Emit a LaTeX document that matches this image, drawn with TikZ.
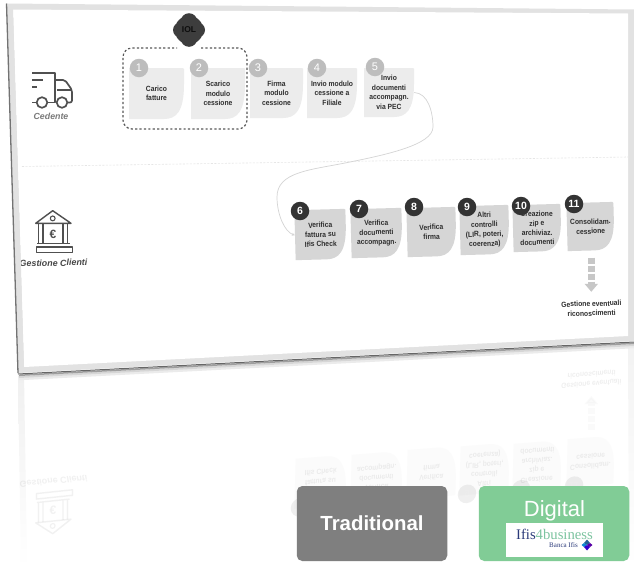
\documentclass[tikz,border=0pt]{standalone}
\usepackage{fontspec}
\setmainfont{Liberation Sans}
\newfontfamily\logoserif{Liberation Serif}
\newfontfamily\cardfont[FakeStretch=0.9]{Liberation Sans}
\usetikzlibrary{arrows.meta,calc}
\definecolor{cardA}{HTML}{ECECEC}
\definecolor{cardB}{HTML}{D6D6D6}
\definecolor{dotA}{HTML}{BDBDBD}
\definecolor{dotB}{HTML}{333333}
\definecolor{ink}{HTML}{2E2E2E}
\definecolor{iconink}{HTML}{505050}
\definecolor{band}{HTML}{E2E2E2}
\definecolor{btngray}{HTML}{7F7F7F}
\definecolor{btngreen}{HTML}{81CC96}
\definecolor{navy}{HTML}{2B3A7A}
\definecolor{teal}{HTML}{7CC4A0}
\tikzset{
  cardtext/.style={font=\cardfont\bfseries\fontsize{7.5}{9.5}\selectfont,text=ink,align=center,inner sep=0pt},
  dotbase/.style={circle,inner sep=0pt,minimum size=18.5pt,text=white},
  dota/.style={dotbase,fill=dotA,font=\fontsize{11}{11}\selectfont},
  dotb/.style={dotbase,fill=dotB,font=\bfseries\fontsize{10.5}{11}\selectfont},
  flow/.style={draw=black!17,line width=0.7pt,-{Stealth[length=3pt,width=3pt]}},
  sep/.style={draw=black!10,line width=0.6pt,dash pattern=on 2pt off 1.5pt},
  icon/.style={draw=iconink,line width=1.7pt,line join=round},
  btn/.style={rounded corners=5.5pt,minimum width=150.5pt,minimum height=75pt,inner sep=0pt},
  grouped/.style={draw=black!65,line width=1.2pt,dash pattern=on 2.2pt off 2.2pt,rounded corners=9pt}
}
% name, cx, cy, w, h, rotation, fill, text, dot
\newcommand\leaf[9]{%
  \begin{scope}[shift={(#2,#3)},rotate=#6]
    \fill[#7] ({-#4/2},{-#5/2}) -- ({#4/2-1},{-#5/2}) -- ({#4/2},{-#5/2+1}) -- ({#4/2},{-#5/2+16})
      .. controls ({#4/2},{#5/2-7}) and ({#4/2-8},{#5/2}) .. ({#4/2-20},{#5/2})
      -- ({-#4/2},{#5/2}) -- cycle;
  \end{scope}
  \node[cardtext,rotate=#6,minimum width=#4pt,minimum height=#5pt] (#1) at (#2,#3) {#8};
  #9}
\newcommand\lowercontent[1]{%
  \leaf{#16}{320.5}{234.5}{51}{50}{1.5}{cardB}{Verifica\\fattura su\\Ifis Check}{\node[dotb] (#1d6) at (300,211) {6};}
  \leaf{#17}{376.5}{233}{51}{49}{1.5}{cardB}{Verifica\\documenti\\accompagn.}{\node[dotb] (#1d7) at (359,209) {7};}
  \leaf{#18}{431.5}{232}{49}{49}{1.5}{cardB}{Verifica\\firma}{\node[dotb] (#1d8) at (414,207) {8};}
  \leaf{#19}{484.5}{230}{49}{49}{1.5}{cardB}{Altri\\controlli\\(LIR, poteri,\\coerenza)}{\node[dotb] (#1d9) at (467,207) {9};}
  \leaf{#110}{537}{228}{48}{47}{1.5}{cardB}{Creazione\\zip e\\archiviaz.\\documenti}{\node[dotb] (#1d10) at (521,206) {10};}
  \leaf{#111}{590.5}{226.5}{47}{48}{1.5}{cardB}{Consolidam.\\cessione}{\node[dotb] (#1d11) at (574,204) {11};}
  \node[cardtext,rotate=1.5] (#1gest) at (591.5,308.5) {Gestione eventuali\\riconoscimenti};
  \draw[draw=black!22,line width=6.5pt,dash pattern=on 6pt off 2pt,shorten <=7pt,shorten >=9pt,
    -{Triangle[length=8pt,width=13pt]}] (#111.south -| #1gest.north) -- (#1gest.north);
  % bank
  \draw[icon,line width=1.4pt] (35.7,223.3) -- (52.7,210.7) -- (71,223.3) -- cycle;
  \draw[icon,line width=1.1pt] (52.7,218.4) circle (2.4);
  \draw[icon,line width=1.4pt] (38.5,223.5) -- (38.5,243) (43,223.5) -- (43,243) (63,223.5) -- (63,243) (67.5,223.5) -- (67.5,243)
    (37,243.5) -- (69.5,243.5) (36.5,247) rectangle (72.5,252.5);
  \node[inner sep=0pt,text=iconink,font=\bfseries\fontsize{12}{12}\selectfont] (#1euro) at (53,234) {€};
  \node[inner sep=0pt,rotate=1,text=black!72,font=\bfseries\itshape\fontsize{8.9}{10}\selectfont] (#1bankl) at (53.5,263) {Gestione Clienti};
}
\begin{document}
\begin{tikzpicture}[x=1pt,y=-1pt]
\useasboundingbox (0,0) rectangle (634,568);
\fill[white] (0,0) rectangle (634,568);
% reflection floor
\shade[top color=black!6,bottom color=white] (18,376) -- (24,372) -- (27,568) -- (21,568) -- cycle;
\shade[top color=black!5,bottom color=white] (628,345) -- (634,342) -- (634,568) -- (629,568) -- cycle;
\begin{scope}[cm={1,0.105,0,-1,(0pt,-749.9pt)},transform shape,opacity=0.08]
  \lowercontent{r}
\end{scope}
% slab shadow
\draw[black!8,line width=2.5pt] (19,379) -- (634,347);
\draw[black!16,line width=2pt] (19,377) -- (634,345);
\draw[black!38,line width=1.5pt] (19,375.3) -- (634,343.3);
\draw[black!60,line width=1pt] (18,374) -- (634,342);
% slab
\fill[band] (6.5,3.5) -- (634,9.5) -- (634,341) -- (18,373) -- cycle;
\fill[white] (13,9.5) -- (628,13.5) -- (628,336) -- (24,367) -- cycle;
% lane separator
\coordinate (sepL) at (22,166.5);
\coordinate (sepR) at (628,157);
\draw[sep] (sepL) -- (sepR);
% connector
\coordinate (b1) at (433,127);
\coordinate (b2) at (345,163);
\coordinate (b3) at (277,197);
% upper lane
\leaf{c1}{156.5}{93.5}{55}{51}{0}{cardA}{Carico\\fatture}{\node[dota] (d1) at (139,68) {1};}
\leaf{c2}{218}{93.5}{54}{51}{0}{cardA}{Scarico\\modulo\\cessione}{\node[dota] (d2) at (199,68) {2};}
\leaf{c3}{276.5}{93}{53}{50}{0}{cardA}{Firma\\modulo\\cessione}{\node[dota] (d3) at (258,68) {3};}
\leaf{c4}{332}{93}{50}{50}{0}{cardA}{Invio modulo\\cessione a\\Filiale}{\node[dota] (d4) at (317,68) {4};}
\leaf{c5}{389}{92.5}{50}{49}{0}{cardA}{Invio\\documenti\\accompagn.\\via PEC}{\node[dota] (d5) at (375,67) {5};}
% lower lane
\lowercontent{c}
\draw[flow] (c5.east) .. controls (428,93) and (433,112) .. (b1)
  .. controls (433,145) and (385,155) .. (b2)
  .. controls (310,170) and (277,172) .. (b3)
  .. controls (277,215) and (285,232) .. (c6.west);
% left band over the label
\fill[band] (6.5,3.5) -- (13,9.5) -- (24,367) -- (18,373) -- cycle;
\draw[black!55,line width=1.3pt] (6.5,3.5) -- (18,373);
% group box and IOL blob
\draw[grouped] (201,48) -- (247,48) -- (247,129) -- (123,129) -- (123,48) -- (177,48);
\fill[black!76] (189,30) circle (14.2) (189,21.5) circle (8.3) (189,38.5) circle (8.3) (180.5,30) circle (7.5) (197.5,30) circle (7.5);
\node[inner sep=0pt,text=black!95,font=\bfseries\fontsize{8.5}{9}\selectfont] (iol) at (189,30) {IOL};
% truck
\draw[icon] (32,73) -- (55,73) -- (55,102.5) -- (48,102.5);
\draw[icon] (32,80) -- (43,80) (32,87) -- (37,87);
\draw[icon,rounded corners=2pt] (55,80) -- (65,80) -- (72,90) -- (72,102.5) -- (68,102.5);
\draw[icon] (57,90) -- (72,90);
\draw[icon] (32,102.5) -- (36.5,102.5);
\draw[icon] (42,102.5) circle (5.3) (62,102.5) circle (5.3);
\node[inner sep=0pt,text=black!52,font=\bfseries\itshape\fontsize{8.8}{10}\selectfont] (cedente) at (51,116.5) {Cedente};
% buttons
\node[btn,fill=btngray,text=white,font=\bfseries\fontsize{20.4}{22}\selectfont] (trad) at (372,523.5) {Traditional};
\node[btn,fill=btngreen] (dig) at (554,523.5) {};
\node[inner sep=0pt,text=white,font=\fontsize{22}{24}\selectfont] (digl) at (554.5,511) {Digital};
\node[fill=white,minimum width=97pt,minimum height=34pt,inner sep=0pt] (logo) at (554.5,540) {};
\node[inner sep=0pt,font=\logoserif\fontsize{14.7}{15}\selectfont] (logot) at (554.5,534.5) {\textcolor{navy}{Ifis}\textcolor{teal}{4business}};
\node[inner sep=0pt,text=navy,font=\logoserif\fontsize{7}{7}\selectfont] (logob) at (563.5,545.5) {Banca Ifis};
\fill[navy!80!cyan] (587,539.5) -- (590,543) -- (587,545) -- (584,543) -- cycle;
\fill[cyan!70!blue] (581.5,545) -- (584,543) -- (587,545) -- (584,547) -- cycle;
\fill[violet!70!blue] (592.5,545) -- (590,543) -- (587,545) -- (590,547) -- cycle;
\fill[blue!60!violet] (587,550.5) -- (590,547) -- (587,545) -- (584,547) -- cycle;
\end{tikzpicture}
\end{document}
